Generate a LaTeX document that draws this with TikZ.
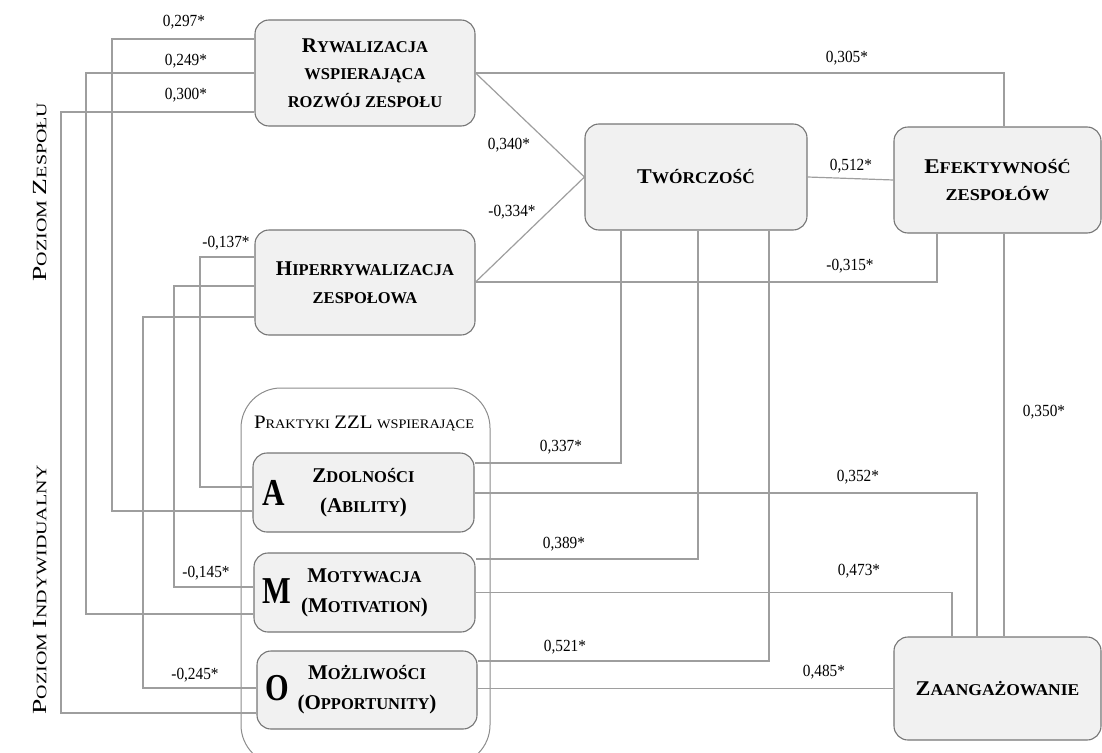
\documentclass[tikz,border=0pt]{standalone}
\usepackage{fontspec}
\setmainfont{Liberation Serif}
\newfontfamily\numfont[FakeStretch=0.9]{Liberation Serif}
\usepackage{graphicx}
\usetikzlibrary{calc}

\definecolor{boxfill}{RGB}{241,241,241}
\definecolor{boxline}{RGB}{118,118,118}
\definecolor{wiregray}{RGB}{158,158,158}
\definecolor{grpline}{RGB}{140,140,140}

% hand-made small capitals: large initial, smaller remainder
\newcommand\BigL[1]{{\fontsize{21}{21}\selectfont #1}}
\newcommand\SmL[1]{{\fontsize{16.5}{16.5}\selectfont #1}}
\newcommand\LvBig[1]{{\fontsize{20}{20}\selectfont #1}}
\newcommand\LvSm[1]{{\fontsize{14.5}{14.5}\selectfont #1}}

\tikzset{
  box/.style={draw=boxline, fill=boxfill, line width=1.1pt, rounded corners=14pt,
              inner sep=0pt, align=center, font=\bfseries\fontsize{16.5}{27.5}\selectfont},
  apobox/.style={box, font=\bfseries\fontsize{16.5}{30}\selectfont},
  grp/.style={draw=grpline, line width=1pt, rounded corners=40pt, inner sep=0pt},
  wire/.style={draw=wiregray, line width=1.2pt},
  coef/.style={inner sep=0pt, font=\numfont\fontsize{17}{17}\selectfont},
  level/.style={inner sep=0pt, rotate=90, font=\fontsize{16}{16}\selectfont},
  letter/.style={inner sep=0pt, font=\bfseries\fontsize{38}{38}\selectfont}
}

\begin{document}
\begin{tikzpicture}[x=1pt, y=-1pt]
\useasboundingbox (0,0) rectangle (1102,752);

% level captions
\node[level] (zes) at (40,192)
  {\scalebox{1.38}[1]{\LvBig{P}\LvSm{OZIOM} \LvBig{Z}\LvSm{ESPOŁU}}};
\node[level] (ind) at (40,590)
  {\scalebox{1.38}[1]{\LvBig{P}\LvSm{OZIOM} \LvBig{I}\LvSm{NDYWIDUALNY}}};

% group of HR practices
\node[grp, minimum width=249pt, minimum height=377pt] (grp) at (365.5,576.5) {};
\node[inner sep=0pt, font=\fontsize{16}{16}\selectfont] (ttl) at (364,424)
  {\scalebox{1.1}[1]{{\fontsize{19}{19}\selectfont P}{\fontsize{13}{13}\selectfont RAKTYKI}
   {\fontsize{19}{19}\selectfont ZZL}\ {\fontsize{13}{13}\selectfont WSPIERAJĄCE}}};

% team-level constructs
\node[box, minimum width=220pt, minimum height=106pt] (ryw) at (365,73)
  {\BigL{R}\SmL{YWALIZACJA}\\\SmL{WSPIERAJĄCA}\\\SmL{ROZWÓJ ZESPOŁU}};
\node[box, minimum width=220pt, minimum height=105pt] (hip) at (365,282.5)
  {\BigL{H}\SmL{IPERRYWALIZACJA}\\\SmL{ZESPOŁOWA}};
\node[box, minimum width=222pt, minimum height=106pt] (tw) at (696,177)
  {\scalebox{1.05}[1]{\BigL{T}\SmL{WÓRCZOŚĆ}}};
\node[box, minimum width=207pt, minimum height=106pt] (ef) at (997.5,180)
  {\scalebox{1.1}[1]{\BigL{E}\SmL{FEKTYWNOŚĆ}}\\\scalebox{1.1}[1]{\SmL{ZESPOŁÓW}}};
\node[box, minimum width=207pt, minimum height=103pt] (za) at (997.5,688.5)
  {\scalebox{1.06}[1]{\BigL{Z}\SmL{AANGAŻOWANIE}}};

% AMO practices
\node[apobox, minimum width=221pt, minimum height=79pt] (a) at (363.5,492.5)
  {\BigL{Z}\SmL{DOLNOŚCI}\\\BigL{(A}\SmL{BILITY}\BigL{)}};
\node[apobox, minimum width=221pt, minimum height=79pt] (m) at (364.5,592.5)
  {\BigL{M}\SmL{OTYWACJA}\\\BigL{(M}\SmL{OTIVATION}\BigL{)}};
\node[apobox, minimum width=220pt, minimum height=78pt] (o) at (367,690)
  {\BigL{M}\SmL{OŻLIWOŚCI}\\\BigL{(O}\SmL{PPORTUNITY}\BigL{)}};
\node[letter] (aL) at (274,492.5) {\scalebox{0.82}[1]{A}};
\node[letter] (mL) at (277,591) {\scalebox{0.8}[1]{M}};
\node[letter] (oL) at (277.5,688.5) {\scalebox{0.8}[1]{O}};

% bus lines on the left
\coordinate (L1) at (112,400);
\coordinate (L2) at (86,400);
\coordinate (L3) at (61,400);
\coordinate (L4) at (200,400);
\coordinate (L5) at (174,400);
\coordinate (L6) at (143,400);

% team level -> practices
\draw[wire] ([yshift=34pt]ryw.west) -| (L1) |- ([yshift=-18.5pt]a.west);
\draw[wire] (ryw.west) -| (L2) |- ([yshift=-21.5pt]m.west);
\draw[wire] ([yshift=-39pt]ryw.west) -| (L3) |- ([yshift=-23pt]o.west);
\draw[wire] ([yshift=25.5pt]hip.west) -| (L4) |- ([yshift=5.5pt]a.west);
\draw[wire] ([yshift=-3.5pt]hip.west) -| (L5) |- ([yshift=5.5pt]m.west);
\draw[wire] ([yshift=-34.5pt]hip.west) -| (L6) |- ([yshift=2pt]o.west);

% team level paths
\draw[wire] (ryw.east) -| ([xshift=6.5pt]ef.north);
\draw[wire] (ryw.east) -- (tw.west);
\draw[wire] ([yshift=0.5pt]hip.east) -- (tw.west);
\draw[wire] (tw.east) -- (ef.west);
\draw[wire] ([yshift=0.5pt]hip.east) -| ([xshift=-60.5pt]ef.south);
\draw[wire] ([xshift=6.5pt]ef.south) -- ([xshift=6.5pt]za.north);

% creativity -> practices
\draw[wire] ([xshift=-75pt]tw.south) |- ([yshift=29.5pt]a.east);
\draw[wire] ([xshift=2pt]tw.south) |- ([yshift=33.5pt]m.east);
\draw[wire] ([xshift=73pt]tw.south) |- ([yshift=29pt]o.east);

% practices -> engagement
\draw[wire] ([yshift=-0.5pt]a.east) -| ([xshift=-20.5pt]za.north);
\draw[wire] (m.east) -| ([xshift=-45.5pt]za.north);
\draw[wire] ([yshift=1.5pt]o.east) -- (za.west);

% coefficients
\node[coef] (c297) at (184,22) {0,297*};
\node[coef] (c249) at (186,61) {0,249*};
\node[coef] (c300) at (186,95) {0,300*};
\node[coef] (c137) at (226,243) {-0,137*};
\node[coef] (c145) at (206,573) {-0,145*};
\node[coef] (c245) at (195,675) {-0,245*};
\node[coef] (c305) at (847,58) {0,305*};
\node[coef] (c340) at (509,145) {0,340*};
\node[coef] (c334) at (512,212) {-0,334*};
\node[coef] (c512) at (851,166) {0,512*};
\node[coef] (c315) at (850,266) {-0,315*};
\node[coef] (c337) at (561,447) {0,337*};
\node[coef] (c389) at (564,544) {0,389*};
\node[coef] (c521) at (565,647) {0,521*};
\node[coef] (c350) at (1044,412) {0,350*};
\node[coef] (c352) at (858,477) {0,352*};
\node[coef] (c473) at (859,571) {0,473*};
\node[coef] (c485) at (824,672) {0,485*};
\end{tikzpicture}
\end{document}
